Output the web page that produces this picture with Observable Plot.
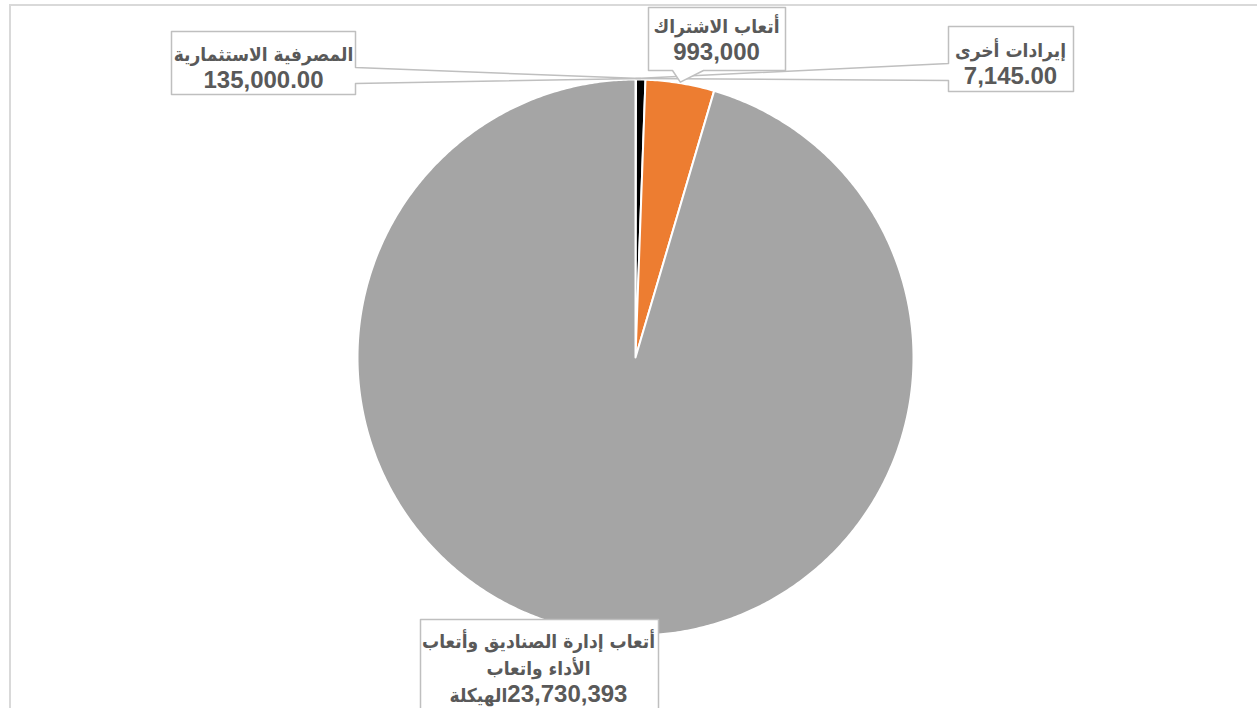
<!DOCTYPE html>
<html>
<head>
<meta charset="utf-8">
<script src="https://cdn.jsdelivr.net/npm/d3@7"></script>
<script src="https://cdn.jsdelivr.net/npm/@observablehq/plot@0.6"></script>
<style>
  html, body { margin: 0; padding: 0; background: #fff; }
  #chart svg { display: block; }
</style>
</head>
<body>
<div id="chart"></div>
<script>
// ---- data (clockwise from 12 o'clock) ----
const categories = [
  "إيرادات أخرى",
  "المصرفية الاستثمارية",
  "أتعاب الاشتراك",
  "أتعاب إدارة الصناديق وأتعاب الأداء واتعاب الهيكلة"
];
const values = [7145, 135000, 993000, 23730393];
const valueLabels = ["7,145.00", "135,000.00", "993,000", "23,730,393"];
const sliceColors = ["#FFC000", "#000000", "#ED7D31", "#A5A5A5"];
// label text as wrapped in the reference
const labelLines = [
  ["إيرادات أخرى", "7,145.00"],
  ["المصرفية الاستثمارية", "135,000.00"],
  ["أتعاب الاشتراك", "993,000"],
  ["أتعاب إدارة الصناديق وأتعاب", "الأداء واتعاب", "الهيكلة23,730,393"]
];

// ---- layout ----
const W = 1257, H = 708;
const cx = 635, cy = 357, R = 278;
const boxes = [
  {x1: 948, y1: 26, x2: 1073, y2: 91, side: "left", w1: 63, w2: 80, tx: 1010, ty: 61.5},
  {x1: 171, y1: 31, x2: 355, y2: 94, side: "right", w1: 67, w2: 83, tx: 263, ty: 65},
  {x1: 648, y1: 7, x2: 785, y2: 70, side: "bottom", w1: 672, w2: 703, tx: 716, ty: 37.5},
  {x1: 420, y1: 619, x2: 658, y2: 730, side: "none", tx: 538, ty: 666}
];

const arcs = d3.pie().sort(null).value(d => d)(values);
const pt = (a, r) => [cx + r * Math.sin(a), cy - r * Math.cos(a)];

const slicePts = [];
arcs.forEach((a, i) => {
  slicePts.push({slice: i, x: cx, y: cy, color: sliceColors[i]});
  const n = Math.max(2, Math.ceil((a.endAngle - a.startAngle) / (Math.PI / 360)));
  for (let k = 0; k <= n; k++) {
    const t = a.startAngle + (a.endAngle - a.startAngle) * k / n;
    const [x, y] = pt(t, R);
    slicePts.push({slice: i, x, y, color: sliceColors[i]});
  }
});

const calloutPts = [];
arcs.forEach((a, i) => {
  const b = boxes[i];
  const mid = (a.startAngle + a.endAngle) / 2;
  const [ax, ay] = pt(mid, R + 1);
  let poly;
  if (b.side === "right") {
    poly = [[b.x1, b.y1], [b.x2, b.y1], [b.x2, b.w1], [ax, ay], [b.x2, b.w2], [b.x2, b.y2], [b.x1, b.y2]];
  } else if (b.side === "left") {
    poly = [[b.x1, b.y1], [b.x2, b.y1], [b.x2, b.y2], [b.x1, b.y2], [b.x1, b.w2], [ax, ay], [b.x1, b.w1]];
  } else if (b.side === "bottom") {
    poly = [[b.x1, b.y1], [b.x2, b.y1], [b.x2, b.y2], [b.w2, b.y2], [ax, ay], [b.w1, b.y2], [b.x1, b.y2]];
  } else {
    poly = [[b.x1, b.y1], [b.x2, b.y1], [b.x2, b.y2], [b.x1, b.y2]];
  }
  poly.forEach(([x, y]) => calloutPts.push({c: i, x, y}));
});

const labels = categories.map((c, i) => ({
  text: labelLines[i].join("\n"),
  x: boxes[i].tx,
  y: boxes[i].ty
}));

const latinFont = "'Liberation Sans', Arial, sans-serif";
const arabicFont = "'DejaVu Sans Condensed', 'DejaVu Sans', sans-serif";

const chart = Plot.plot({
  width: W,
  height: H,
  margin: 0,
  x: {domain: [0, W], range: [0, W], axis: null},
  y: {domain: [0, H], range: [0, H], axis: null},
  color: {type: "identity"},
  style: {fontFamily: latinFont, background: "#fff"},
  marks: [
    Plot.rect([0], {x1: 10, y1: 5, x2: W + 20, y2: H + 20, fill: "none", stroke: "#D9D9D9", strokeWidth: 2}),
    Plot.line(slicePts, {x: "x", y: "y", z: "slice", fill: "color", stroke: "#fff", strokeWidth: 2, curve: "linear-closed", strokeLinejoin: "round"}),
    Plot.line(calloutPts, {x: "x", y: "y", z: "c", fill: "#fff", stroke: "#BFBFBF", strokeWidth: 1.5, curve: "linear-closed"}),
    Plot.text(labels, {x: "x", y: "y", text: "text", fill: "#595959", fontSize: 22, fontWeight: "bold", lineHeight: 1.22, textAnchor: "middle"})
  ]
});

// style Arabic runs and Latin runs separately (Arabic falls back to DejaVu)
const NS = "http://www.w3.org/2000/svg";
chart.querySelectorAll("text tspan").forEach(ts => {
  const s = ts.textContent;
  const runs = s.match(/[\u0600-\u06FF\s]+|[^\u0600-\u06FF\s]+/g) || [];
  ts.textContent = "";
  runs.forEach((r, k) => {
    const sp = document.createElementNS(NS, "tspan");
    const ar = /[\u0600-\u06FF]/.test(r);
    sp.setAttribute("font-family", ar ? arabicFont : latinFont);
    sp.setAttribute("font-size", ar ? 19 : 24);
    // keep the number to the right of the Arabic word, as in the reference
    sp.textContent = (!ar && k > 0) ? "\u200E" + r : r;
    ts.appendChild(sp);
  });
});
document.getElementById("chart").appendChild(chart);
</script>
</body>
</html>
